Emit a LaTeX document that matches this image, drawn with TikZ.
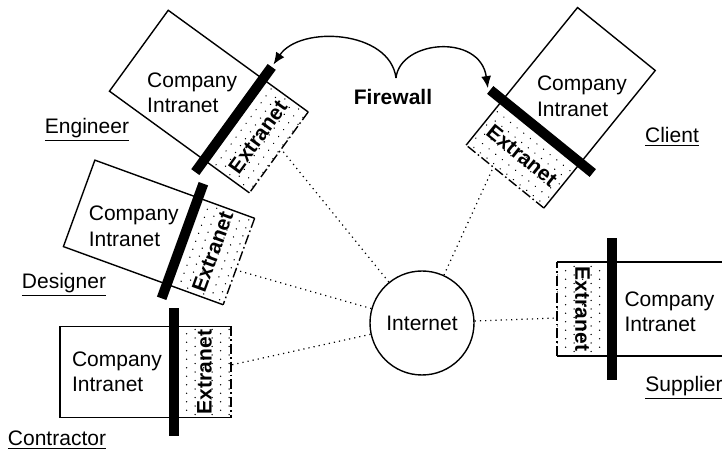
\documentclass[tikz,border=0pt]{standalone}
\usepackage{fontspec}
\setmainfont{Liberation Sans}
\usetikzlibrary{arrows.meta}

\tikzset{
  txt/.style={font=\fontsize{10.5}{12.6}\selectfont},
  boldtxt/.style={font=\fontsize{10.5}{12.6}\selectfont\bfseries},
  outline/.style={draw, line width=0.7pt},
  farside/.style={line width=0.7pt, dash pattern=on 5pt off 1.5pt on 0.8pt off 1.5pt},
  link/.style={dotted, line width=0.6pt}
}

\begin{document}
\begin{tikzpicture}[x=0.5pt, y=0.5pt]
  \useasboundingbox (0,0) rectangle (722,455);

  % Internet
  \node[outline, circle, minimum size=52pt, inner sep=0pt, txt] (inet) at (422,132) {Internet};

  % Companies
  \foreach \nm/\px/\py/\ang/\li/\we/\hh/\bl/\po/\tx/\ty in {
      eng/233.5/335.5/-36/117/56/100/130/4/6/-8,
      des/182.5/214/-20/110/60/92/122/-9/3/-4,
      con/174/83/0/114/57/91/127/7/0/0,
      sup/612/146/180/115/55/94/141/9/0/-3,
      cli/541.5/323.5/-129/119/58/100/132/-15/3/-11} {
    \begin{scope}[shift={(\px,\py)}, rotate=\ang]
      % Extranet dots
      \begin{scope}
        \clip (0,-\hh/2) rectangle (\we,\hh/2);
        \foreach \i in {0,...,7}
          \foreach \j in {-6,...,6}
            \fill ({4+\i*8.5},{\j*8.5+mod(\i,2)*4.25}) circle (0.75);
      \end{scope}
      \draw[line width=0.7pt] (\we,\hh/2) -- (0,\hh/2) (0,-\hh/2) -- (\we,-\hh/2);
      \draw[farside] (\we,\hh/2) -- (\we,-\hh/2);
      % Intranet
      \draw[outline] (0,-\hh/2) rectangle (-\li,\hh/2);
      % Firewall bar
      \fill (-5,-\bl/2) rectangle (5,\bl/2);
      \node[boldtxt, rotate=\ang+90] (\nm-ex) at (\we/2+2,0) {Extranet};
      \coordinate (\nm-mid) at (-\li/2,0);
      \coordinate (\nm-port) at (\we,\po);
      \coordinate (\nm-top) at (0,\bl/2+3);
      \coordinate (\nm-bot) at (0,-\bl/2-3);
    \end{scope}
    \node[txt, align=left] (\nm-in) at ([shift={(\tx,\ty)}]\nm-mid) {Company\\Intranet};
  }

  % Links
  \foreach \nm in {eng,des,con,sup,cli}
    \draw[link] (inet) -- (\nm-port);

  % Firewall
  \node[boldtxt] (fw) at (393,358) {Firewall};
  \coordinate (cusp) at (396,377);
  \draw[line width=0.7pt, -{Latex[length=6pt,width=5pt]}] (cusp) .. controls (390,425) and (300,430) .. (eng-top);
  \draw[line width=0.7pt, -{Latex[length=6pt,width=5pt]}] (cusp) .. controls (400,415) and (480,422) .. (cli-bot);

  % Labels
  \node[txt] (eng-lbl) at (87,325) {\underline{Engineer}};
  \node[txt] (des-lbl) at (64,170) {\underline{Designer}};
  \node[txt] (con-lbl) at (57,15) {\underline{Contractor}};
  \node[txt] (cli-lbl) at (672,318) {\underline{Client}};
  \node[txt] (sup-lbl) at (684,67) {\underline{Supplier}};
\end{tikzpicture}
\end{document}
